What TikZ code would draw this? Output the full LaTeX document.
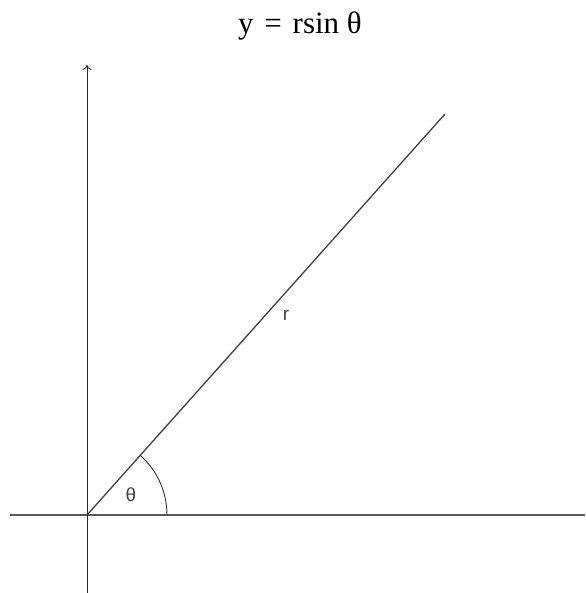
\documentclass[tikz,border=0pt]{standalone}
\usepackage{fontspec}
\newfontfamily\titlefont{Liberation Serif}
\newfontfamily\labelfont{Liberation Sans}
\usetikzlibrary{arrows.meta}

\begin{document}
\begin{tikzpicture}[x=1pt, y=1pt,
  axis/.style={draw=black!85, line width=0.9pt},
  haxis/.style={draw=black!65, line width=1.6pt},
  ray/.style={draw=black!75, line width=1.3pt},
  lbl/.style={font=\labelfont\fontsize{19}{21}\selectfont, text=black!75, inner sep=0pt}]
  \useasboundingbox (0,0) rectangle (585,593);
  % axes
  \coordinate (O)     at (87,78);
  \coordinate (ytop)  at (87,528);
  \coordinate (ybot)  at (87,0);
  \coordinate (xleft) at (10,78);
  \coordinate (xright) at (585,78);
  \coordinate (P)     at (445,479);
  \draw[haxis] (xleft) -- (xright);
  \draw[axis, -{To[length=5pt,width=9pt]}] (ybot) -- (ytop);
  % radius and angle
  \draw[ray] (O) -- (P);
  \draw[axis, black!80] ([shift={(80,0)}]O) arc[start angle=0, end angle=48.2, radius=80];
  \node[lbl] (theta) at (131,98) {θ};
  \node[lbl] (r) at (286,278) {r};
  \node[font=\titlefont\fontsize{31}{34}\selectfont, inner sep=0pt] (title) at (300,567) {y\hspace{3pt} = \hspace{3pt}rsin θ};
\end{tikzpicture}
\end{document}
